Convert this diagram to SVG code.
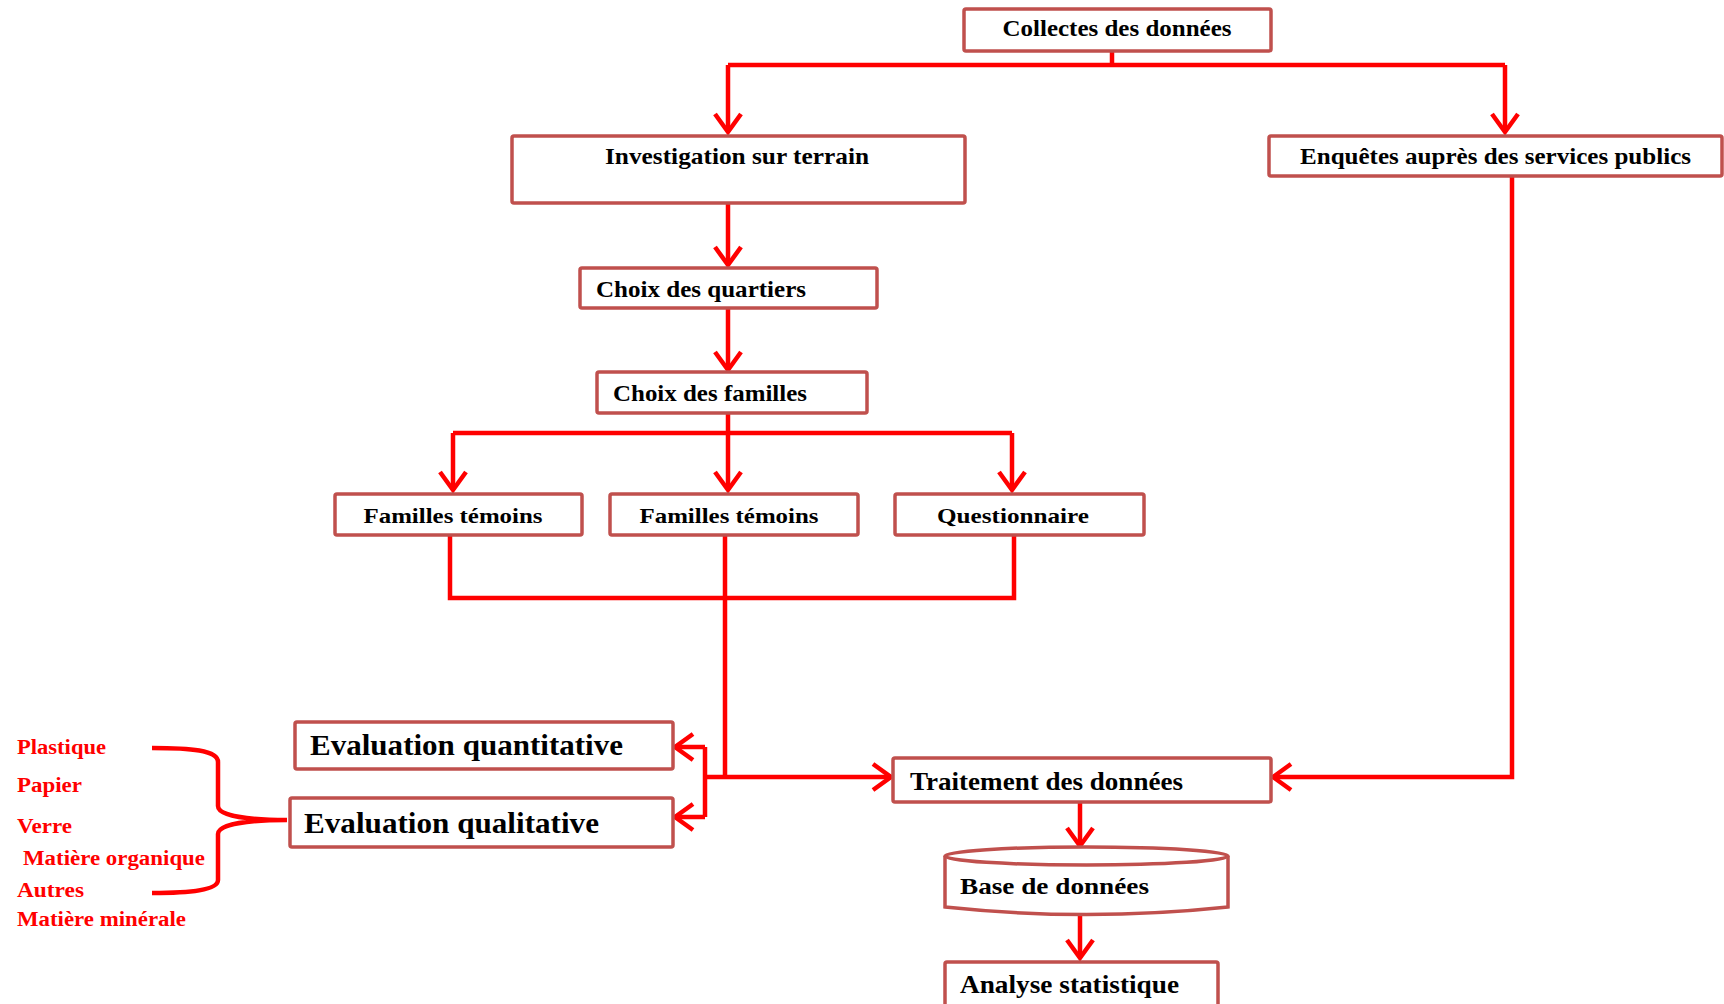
<svg xmlns="http://www.w3.org/2000/svg" width="1724" height="1004" viewBox="0 0 1724 1004">
<style>
.box{fill:#fff;stroke:#C0504D;stroke-width:3.5}
.t{font-family:"Liberation Serif","Times New Roman",serif;font-weight:bold;fill:#000}
.r{font-family:"Liberation Serif","Times New Roman",serif;font-weight:bold;fill:#FF0000;font-size:20px}
.c{fill:none;stroke:#FF0000;stroke-width:4.5;stroke-linejoin:miter}
</style>
<defs>
<marker id="ah" viewBox="-20 -16 24 32" markerWidth="24" markerHeight="32" refX="0" refY="0" orient="auto" markerUnits="userSpaceOnUse">
<path d="M-18,-13 L0,0 L-18,13" fill="none" stroke="#FF0000" stroke-width="4.5"/>
</marker>
</defs>
<rect width="1724" height="1004" fill="#fff"/>

<g id="connectors">
<path class="c" d="M1112,38 V65"/>
<path class="c" d="M728,65 H1505"/>
<path class="c" d="M728,65 V132" marker-end="url(#ah)"/>
<path class="c" d="M1505,65 V132" marker-end="url(#ah)"/>
<path class="c" d="M728,199 V265" marker-end="url(#ah)"/>
<path class="c" d="M728,308 V370" marker-end="url(#ah)"/>
<path class="c" d="M728,413 V490" marker-end="url(#ah)"/>
<path class="c" d="M453,433 H1012"/>
<path class="c" d="M453,433 V490" marker-end="url(#ah)"/>
<path class="c" d="M1012,433 V490" marker-end="url(#ah)"/>
<path class="c" d="M450,528 V598 H1014 V528"/>
<path class="c" d="M725,528 V777"/>
<path class="c" d="M705,777 H891" marker-end="url(#ah)"/>
<path class="c" d="M705,747 V817"/>
<path class="c" d="M705,747 H675" marker-end="url(#ah)"/>
<path class="c" d="M705,817 H675" marker-end="url(#ah)"/>
<path class="c" d="M1512,176 V777 H1273" marker-end="url(#ah)"/>
<path class="c" d="M1080,802 V846" marker-end="url(#ah)"/>
<path class="c" d="M1080,915 V958" marker-end="url(#ah)"/>
<path class="c" d="M152,748 C190,748 218,750 218,762 V806 C218,816 250,820 287,820 C250,820 218,824 218,834 V880 C218,890 190,893 152,893"/>
</g>

<g id="n-collectes"><rect class="box" x="964" y="9" width="307" height="42" rx="2"/><text class="t" x="1117" y="36" font-size="23" text-anchor="middle" textLength="229" lengthAdjust="spacingAndGlyphs">Collectes des données</text></g>
<g id="n-investigation"><rect class="box" x="512" y="136" width="453" height="67" rx="2"/><text class="t" x="737" y="164" font-size="23" text-anchor="middle" textLength="264" lengthAdjust="spacingAndGlyphs">Investigation sur terrain</text></g>
<g id="n-enquetes"><rect class="box" x="1269" y="136" width="453" height="40" rx="2"/><text class="t" x="1300" y="164" font-size="23" textLength="391" lengthAdjust="spacingAndGlyphs">Enquêtes auprès des services publics</text></g>
<g id="n-quartiers"><rect class="box" x="580" y="268" width="297" height="40" rx="2"/><text class="t" x="596" y="297" font-size="23" textLength="210" lengthAdjust="spacingAndGlyphs">Choix des quartiers</text></g>
<g id="n-familles"><rect class="box" x="597" y="372" width="270" height="41" rx="2"/><text class="t" x="613" y="401" font-size="23" textLength="194" lengthAdjust="spacingAndGlyphs">Choix des familles</text></g>
<g id="n-temoins1"><rect class="box" x="335" y="494" width="247" height="41" rx="2"/><text class="t" x="453" y="523" font-size="22" text-anchor="middle" textLength="179" lengthAdjust="spacingAndGlyphs">Familles témoins</text></g>
<g id="n-temoins2"><rect class="box" x="610" y="494" width="248" height="41" rx="2"/><text class="t" x="729" y="523" font-size="22" text-anchor="middle" textLength="179" lengthAdjust="spacingAndGlyphs">Familles témoins</text></g>
<g id="n-questionnaire"><rect class="box" x="895" y="494" width="249" height="41" rx="2"/><text class="t" x="1013" y="523" font-size="22" text-anchor="middle" textLength="152" lengthAdjust="spacingAndGlyphs">Questionnaire</text></g>
<g id="n-quant"><rect class="box" x="295" y="722" width="378" height="47" rx="2"/><text class="t" x="310" y="755" font-size="30" textLength="313" lengthAdjust="spacingAndGlyphs">Evaluation quantitative</text></g>
<g id="n-qual"><rect class="box" x="290" y="798" width="383" height="49" rx="2"/><text class="t" x="304" y="833" font-size="30" textLength="295" lengthAdjust="spacingAndGlyphs">Evaluation qualitative</text></g>
<g id="n-traitement"><rect class="box" x="893" y="758" width="378" height="44" rx="2"/><text class="t" x="910" y="790" font-size="26" textLength="273" lengthAdjust="spacingAndGlyphs">Traitement des données</text></g>
<g id="n-base"><path class="box" d="M945,856 V907 Q1086,922 1228,907 V856"/><ellipse class="box" cx="1086.5" cy="856" rx="141.5" ry="9"/><text class="t" x="960" y="894" font-size="24" textLength="189" lengthAdjust="spacingAndGlyphs">Base de données</text></g>
<g id="n-analyse"><rect class="box" x="945" y="962" width="273" height="50" rx="2"/><text class="t" x="960" y="993" font-size="25" textLength="219" lengthAdjust="spacingAndGlyphs">Analyse statistique</text></g>

<g id="labels">
<text class="r" x="17" y="754" textLength="89" lengthAdjust="spacingAndGlyphs">Plastique</text>
<text class="r" x="17" y="792" textLength="65" lengthAdjust="spacingAndGlyphs">Papier</text>
<text class="r" x="17" y="833" textLength="55" lengthAdjust="spacingAndGlyphs">Verre</text>
<text class="r" x="23" y="865" textLength="182" lengthAdjust="spacingAndGlyphs">Matière organique</text>
<text class="r" x="17" y="897" textLength="67" lengthAdjust="spacingAndGlyphs">Autres</text>
<text class="r" x="17" y="926" textLength="169" lengthAdjust="spacingAndGlyphs">Matière minérale</text>
</g>
</svg>
